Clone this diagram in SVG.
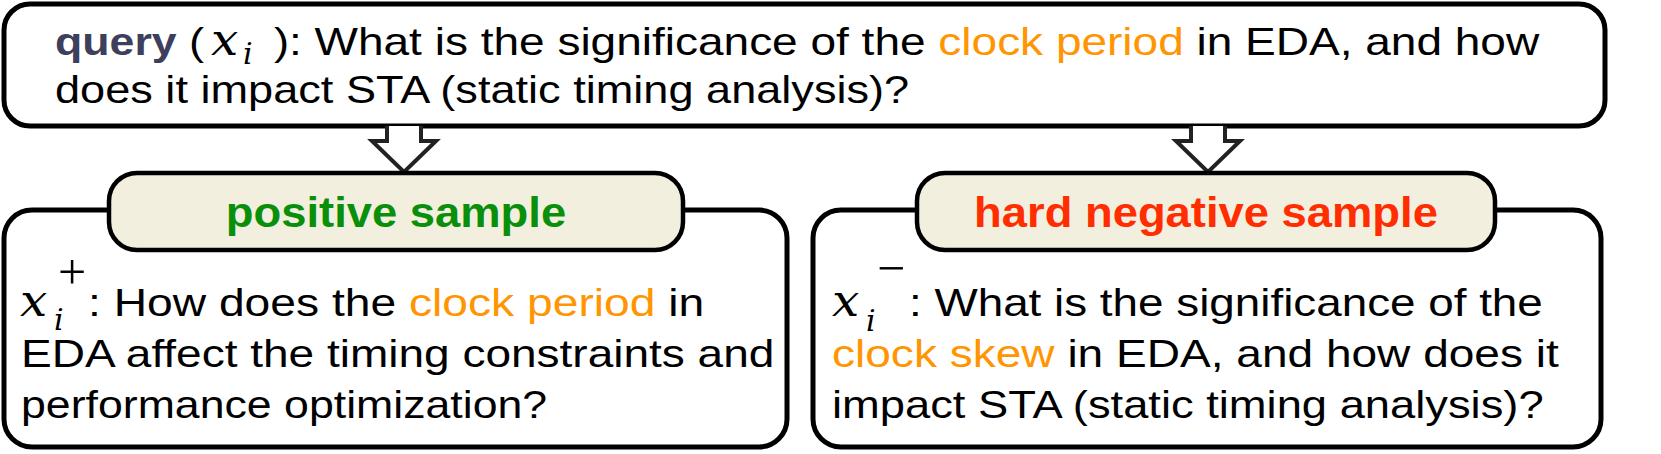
<svg xmlns="http://www.w3.org/2000/svg" width="1661" height="454" viewBox="0 0 1661 454">
<style>
.box{fill:#fff;stroke:#000;stroke-width:5}
.lab{fill:#F2EFDF;stroke:#000;stroke-width:4.5}
.arr{fill:#fff;stroke:#222;stroke-width:4;stroke-linejoin:miter}
.t{font-family:"Liberation Sans",Arial,sans-serif;font-size:38.5px;fill:#000}
.lt{font-family:"Liberation Sans",Arial,sans-serif;font-size:42px;font-weight:bold}
.b{font-weight:bold}
.q{fill:#3d3f5c}
.o{fill:#FF9500}
.g{fill:#0A8F0A}
.r{fill:#FF2D00}
.m{font-family:"DejaVu Serif","Liberation Serif",serif;font-style:italic;font-size:44px;fill:#000}
.ms{font-family:"DejaVu Serif","Liberation Serif",serif;font-style:italic;font-size:30px;fill:#000}
.sp{font-family:"Liberation Serif","DejaVu Serif",serif;font-size:50px;fill:#000}
</style>
<g id="query">
<rect class="box" x="4" y="4" width="1601" height="122" rx="26"/>
<g transform="translate(55 55) scale(1.16 1)"><text class="t b q" x="0" y="0">query</text></g>
<g transform="translate(189 55) scale(1.18 1)"><text class="t" x="0" y="0">(</text></g>
<g transform="translate(211 55) scale(1.1 1)"><text class="m" x="0" y="0">x</text></g>
<text class="ms" x="243" y="64">i</text>
<g transform="translate(274 55) scale(1.18 1)"><text class="t" x="0" y="0">)</text></g>
<g transform="translate(289 55) scale(1.195 1)"><text class="t" x="0" y="0">: What is the significance of the <tspan class="o">clock period</tspan> in EDA, and how</text></g>
<g transform="translate(55 103) scale(1.172 1)"><text class="t" x="0" y="0">does it impact STA (static timing analysis)?</text></g>
</g>
<g id="connectors">
<path class="arr" d="M387 126 V141 H372 L404 172 L436 141 H421 V126"/>
<path class="arr" d="M1191 126 V141 H1176 L1208 172 L1240 141 H1225 V126"/>
</g>
<g id="positive">
<rect class="box" x="4" y="210" width="783" height="237" rx="28"/>
<rect class="lab" x="109" y="173" width="574" height="77" rx="28"/>
<g transform="translate(396 227) scale(1.08 1)"><text class="lt g" x="0" y="0" text-anchor="middle">positive sample</text></g>
<g transform="translate(20 316) scale(1.1 1)"><text class="m" x="0" y="0">x</text></g>
<text class="sp" x="58" y="289">+</text>
<text class="ms" x="54" y="330">i</text>
<g transform="translate(88 316) scale(1.2 1)"><text class="t" x="0" y="0">: How does the <tspan class="o">clock period</tspan> in</text></g>
<g transform="translate(21 367) scale(1.195 1)"><text class="t" x="0" y="0">EDA affect the timing constraints and</text></g>
<g transform="translate(21 418) scale(1.16 1)"><text class="t" x="0" y="0">performance optimization?</text></g>
</g>
<g id="negative">
<rect class="box" x="813" y="210" width="788" height="237" rx="28"/>
<rect class="lab" x="917" y="173" width="578" height="77" rx="28"/>
<g transform="translate(1206 227) scale(1.08 1)"><text class="lt r" x="0" y="0" text-anchor="middle">hard negative sample</text></g>
<g transform="translate(832 316) scale(1.1 1)"><text class="m" x="0" y="0">x</text></g>
<text class="sp" x="877" y="285">−</text>
<text class="ms" x="866" y="331">i</text>
<g transform="translate(909 316) scale(1.19 1)"><text class="t" x="0" y="0">: What is the significance of the</text></g>
<g transform="translate(832 367) scale(1.196 1)"><text class="t" x="0" y="0"><tspan class="o">clock skew</tspan> in EDA, and how does it</text></g>
<g transform="translate(832 418) scale(1.177 1)"><text class="t" x="0" y="0">impact STA (static timing analysis)?</text></g>
</g>
</svg>
